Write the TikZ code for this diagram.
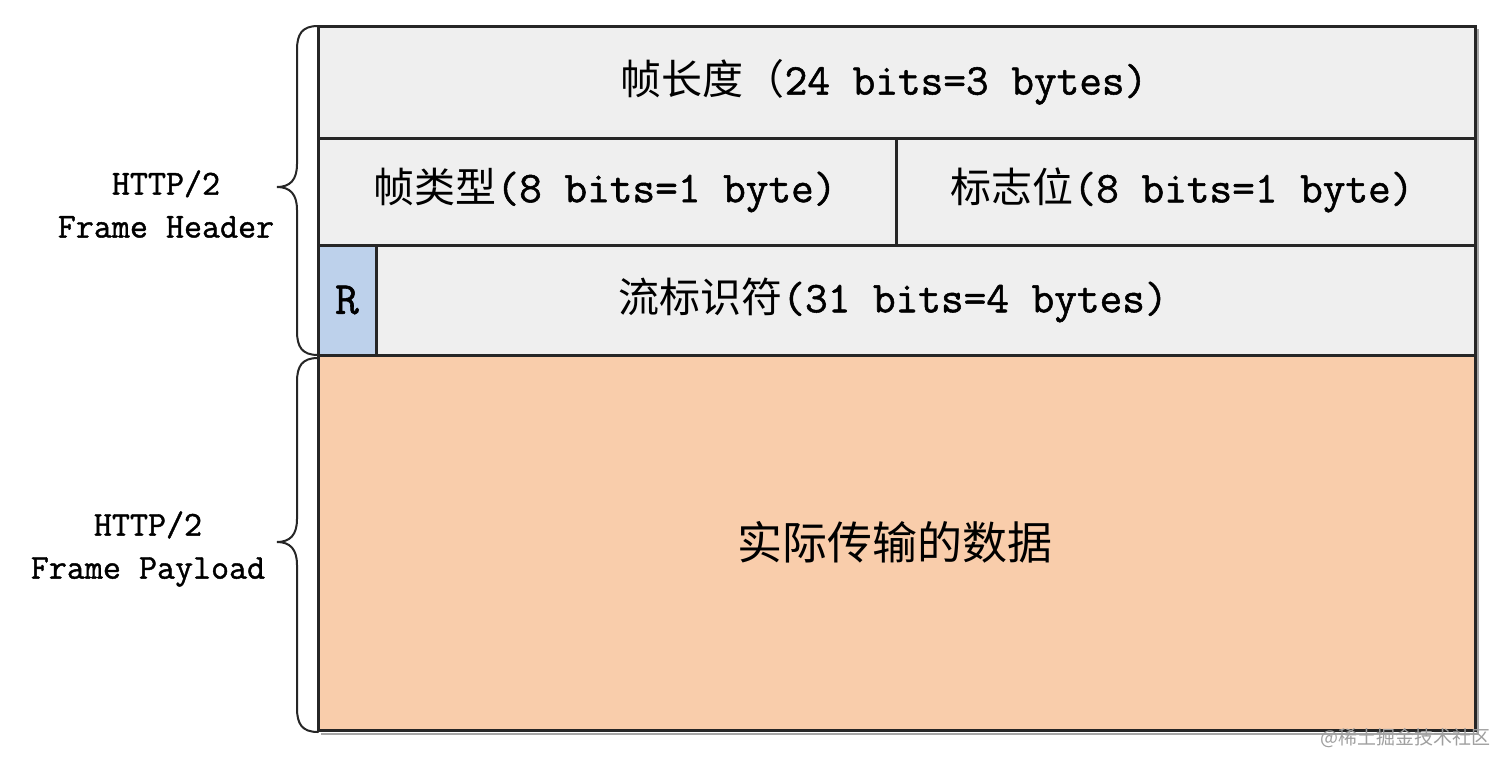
\documentclass[tikz,border=0pt]{standalone}
\usepackage{fontspec}
\setmonofont{Latin Modern Mono}[FakeBold=1.2]
\newfontfamily\cjk{Noto Sans CJK SC}
\definecolor{cellgrey}{HTML}{EFEFEF}
\definecolor{rblue}{HTML}{BDD1EB}
\definecolor{payload}{HTML}{F9CDAB}
\definecolor{edge}{HTML}{262626}
\newcommand{\cj}[1]{{\cjk\fontsize{41}{48}\selectfont #1}}
\newcommand{\lt}[1]{{\ttfamily\fontsize{44}{52}\selectfont #1}}
\begin{document}
\begin{tikzpicture}[x=1pt,y=-1pt,
  cell/.style={draw=edge, line width=3pt, fill=cellgrey, anchor=north west, inner sep=0pt, outer sep=0pt},
  lbl/.style={font=\ttfamily\fontsize{35}{43}\selectfont, align=center, inner sep=0pt},
  brc/.style={draw=edge, line width=2pt, line cap=round}]
\useasboundingbox (0,0) rectangle (1512,769);
\fill[white] (0,0) rectangle (1512,769);
% shadow
\draw[gray!70, line width=2pt] (1478,29) -- (1478,733.5) -- (321,733.5);
% cells
\node[cell, minimum width=1157pt, minimum height=112pt] (len) at (318,26) {};
\node[cell, minimum width=578pt, minimum height=107pt] (type) at (318,138) {};
\node[cell, minimum width=579pt, minimum height=107pt] (flag) at (896,138) {};
\node[cell, minimum width=1099pt, minimum height=110pt] (sid) at (376,245) {};
\node[cell, fill=rblue, minimum width=58pt, minimum height=110pt] (r) at (318,245) {};
\node[cell, fill=payload, minimum width=1157pt, minimum height=375pt] (pay) at (318,355) {};
% texts
\node[inner sep=0pt] (lentxt) at (884,82) {\cj{帧长度（}\lt{24 bits=3 bytes)}};
\node[inner sep=0pt] (typetxt) at (605,190) {\cj{帧类型}\lt{(8 bits=1 byte)}};
\node[inner sep=0pt] (flagtxt) at (1182,190) {\cj{标志位}\lt{(8 bits=1 byte)}};
\node[inner sep=0pt] (sidtxt) at (893,300) {\cj{流标识符}\lt{(31 bits=4 bytes)}};
\node[inner sep=0pt] (rtxt) at (r.center) {{\ttfamily\fontsize{46}{50}\selectfont R}};
\node[inner sep=0pt] (paytxt) at (895,542) {{\cjk\fontsize{45}{52}\selectfont 实际传输的数据}};
% braces
\coordinate (hb1) at (318,26);
\coordinate (hb2) at (318,355);
\coordinate (hbt) at (277,187);
\draw[brc] (hb1) .. controls (302,26) and (297,34) .. (297,50) -- (297,164)
  .. controls (297,180) and (290,187) .. (hbt)
  .. controls (290,187) and (297,194) .. (297,210) -- (297,331)
  .. controls (297,347) and (302,355) .. (hb2);
\coordinate (pb1) at (318,358);
\coordinate (pb2) at (318,732);
\coordinate (pbt) at (277,542);
\draw[brc] (pb1) .. controls (302,358) and (297,366) .. (297,382) -- (297,519)
  .. controls (297,535) and (290,542) .. (pbt)
  .. controls (290,542) and (297,549) .. (297,565) -- (297,708)
  .. controls (297,724) and (302,732) .. (pb2);
% side labels
\node[lbl] (hdr) at (166,204) {HTTP/2\\Frame Header};
\node[lbl] (pl) at (148,549) {HTTP/2\\Frame Payload};
% watermark
\node[anchor=east, inner sep=0pt, text=gray!75] (wm) at (1491,738) {{\cjk\fontsize{19}{22}\selectfont @稀土掘金技术社区}};
\end{tikzpicture}
\end{document}
